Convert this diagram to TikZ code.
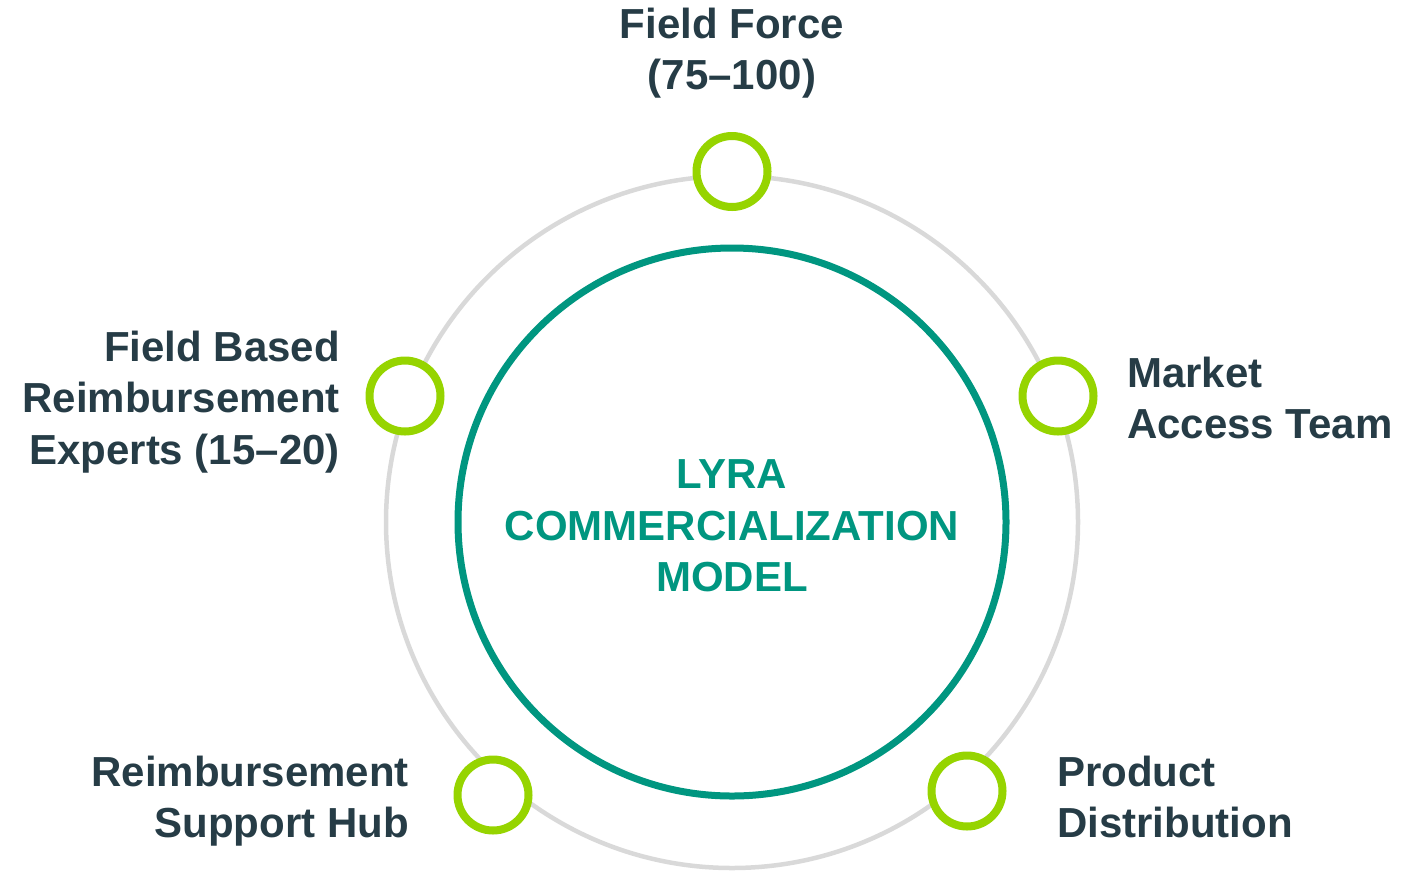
\documentclass[tikz,border=0pt]{standalone}
\usepackage{fontspec}
\setmainfont{Liberation Sans}
\definecolor{txt}{RGB}{38,60,70}
\definecolor{teal1}{RGB}{0,150,128}
\definecolor{lime}{RGB}{150,212,0}
\definecolor{ring}{RGB}{217,217,217}
\begin{document}
\begin{tikzpicture}[x=1pt,y=-1pt,
  lbl/.style={font=\fontsize{42}{51.5}\selectfont\bfseries, text=txt, inner sep=0pt},
  dot/.style={circle, draw=lime, line width=8pt, minimum size=71pt, inner sep=0pt, fill=white}]
\useasboundingbox (0,0) rectangle (1423,871);
\coordinate (c) at (732,522);
\draw[ring, line width=4.5pt] (c) circle[radius=346];
\draw[teal1, line width=7pt] (c) circle[radius=274];
\node[dot] (top) at (732,171.5) {};
\node[dot] (left) at (405,396) {};
\node[dot] (right) at (1058,396) {};
\node[dot] (bl) at (493,795) {};
\node[dot] (br) at (967,791) {};
\node[lbl, text=teal1, align=center] (center) at (732,526) {LYRA\\COMMERCIALIZATION\\MODEL};
\node[lbl, align=center] (tl) at (732,53) {Field Force\\(75–100)};
\node[lbl, align=right, anchor=east] (ll) at (340,402) {Field Based\\Reimbursement\\Experts (15–20)};
\node[lbl, align=left, anchor=west] (rl) at (1127,398) {Market\\Access Team};
\node[lbl, align=right, anchor=east] (bll) at (409,801) {Reimbursement\\Support Hub};
\node[lbl, align=left, anchor=west] (brl) at (1057,797) {Product\\Distribution};
\end{tikzpicture}
\end{document}
